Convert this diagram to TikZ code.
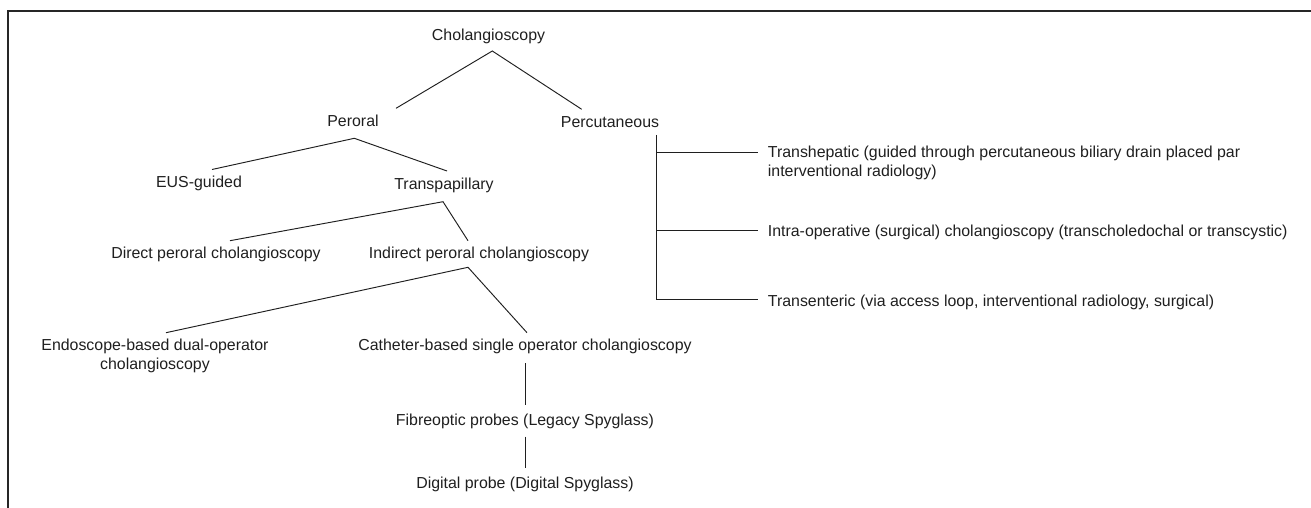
\documentclass[tikz,border=0pt]{standalone}
\usepackage{fontspec}
\setmainfont{Liberation Sans}
\usetikzlibrary{calc}

\begin{document}
\begin{tikzpicture}[x=1pt, y=-1pt,
		lbl/.style={anchor=base, inner sep=0pt, text=black!88, font=\fontsize{15.9}{19.5}\selectfont},
		lblw/.style={lbl, anchor=base west, align=left},
		twig/.style={line width=0.95pt, draw=black!88}]
			%%%%% START %%%%%
			\useasboundingbox (0, 0) rectangle (1311, 508);
			\draw[line width=2pt, color=black!85] (8.3, 508) -- (8.3, 11.5) -- (1311, 11.5);
			
			% labels (two-line nodes sit on their last baseline)
			\node[lbl] (chol) at (488.5, 40.6) {Cholangioscopy};
			\node[lbl] (peroral) at (353, 127) {Peroral};
			\node[lbl] (percut) at (610, 128) {Percutaneous};
			\node[lbl] (eus) at (199, 187) {EUS-guided};
			\node[lbl] (transpap) at (444, 189.5) {Transpapillary};
			\node[lbl] (direct) at (216, 258.5) {Direct peroral cholangioscopy};
			\node[lbl] (indirect) at (479, 258.5) {Indirect peroral cholangioscopy};
			\node[lbl, align=center] (endo) at (155, 369.5) {Endoscope-based dual-operator\\cholangioscopy};
			\node[lbl] (cath) at (525, 350) {Catheter-based single operator cholangioscopy};
			\node[lbl] (fibre) at (525, 425) {Fibreoptic probes (Legacy Spyglass)};
			\node[lbl] (digital) at (525, 488) {Digital probe (Digital Spyglass)};
			\node[lblw] (transhep) at (767.7, 176.5) {Transhepatic (guided through percutaneous biliary drain placed par\\interventional radiology)};
			\node[lblw] (intraop) at (767.7, 236.5) {Intra-operative (surgical) cholangioscopy (transcholedochal or transcystic)};
			\node[lblw] (transent) at (767.7, 306) {Transenteric (via access loop, interventional radiology, surgical)};
			
			% branch points
			\coordinate (cholfoot) at (492.3, 51);
			\coordinate (peroraltop) at (396, 108.3);
			\coordinate (percuttop) at (581.7, 109.3);
			\coordinate (peroralfoot) at (354.3, 138.3);
			\coordinate (eustop) at (212, 169.5);
			\coordinate (transpaptop) at (447, 171);
			\coordinate (transpapfoot) at (443, 201.7);
			\coordinate (directtop) at (230, 240.7);
			\coordinate (indirecttop) at (468, 240.7);
			\coordinate (indirectfoot) at (468, 267.3);
			\coordinate (endotop) at (166, 332.7);
			\coordinate (cathtop) at (527, 332.7);
			\coordinate (cathfoot) at (525, 363);
			\coordinate (fibretop) at (525, 405);
			\coordinate (fibrefoot) at (525, 436.7);
			\coordinate (digitaltop) at (525, 468.3);
			\coordinate (percutfoot) at (656, 135);
			\coordinate (transhepend) at (757.7, 152.3);
			\coordinate (intraopend) at (757.7, 230);
			\coordinate (transentend) at (757.7, 299.3);
			
			% tree
			\draw[twig] (peroraltop) -- (cholfoot) -- (percuttop);
			\draw[twig] (eustop) -- (peroralfoot) -- (transpaptop);
			\draw[twig] (directtop) -- (transpapfoot) -- (indirecttop);
			\draw[twig] (endotop) -- (indirectfoot) -- (cathtop);
			\draw[twig] (cathfoot) -- (fibretop);
			\draw[twig] (fibrefoot) -- (digitaltop);
			\draw[twig] (percutfoot) |- (transentend);
			\draw[twig] (percutfoot |- transhepend) -- (transhepend);
			\draw[twig] (percutfoot |- intraopend) -- (intraopend);
			
			%%%%% END %%%%%
\end{tikzpicture}
\end{document}
